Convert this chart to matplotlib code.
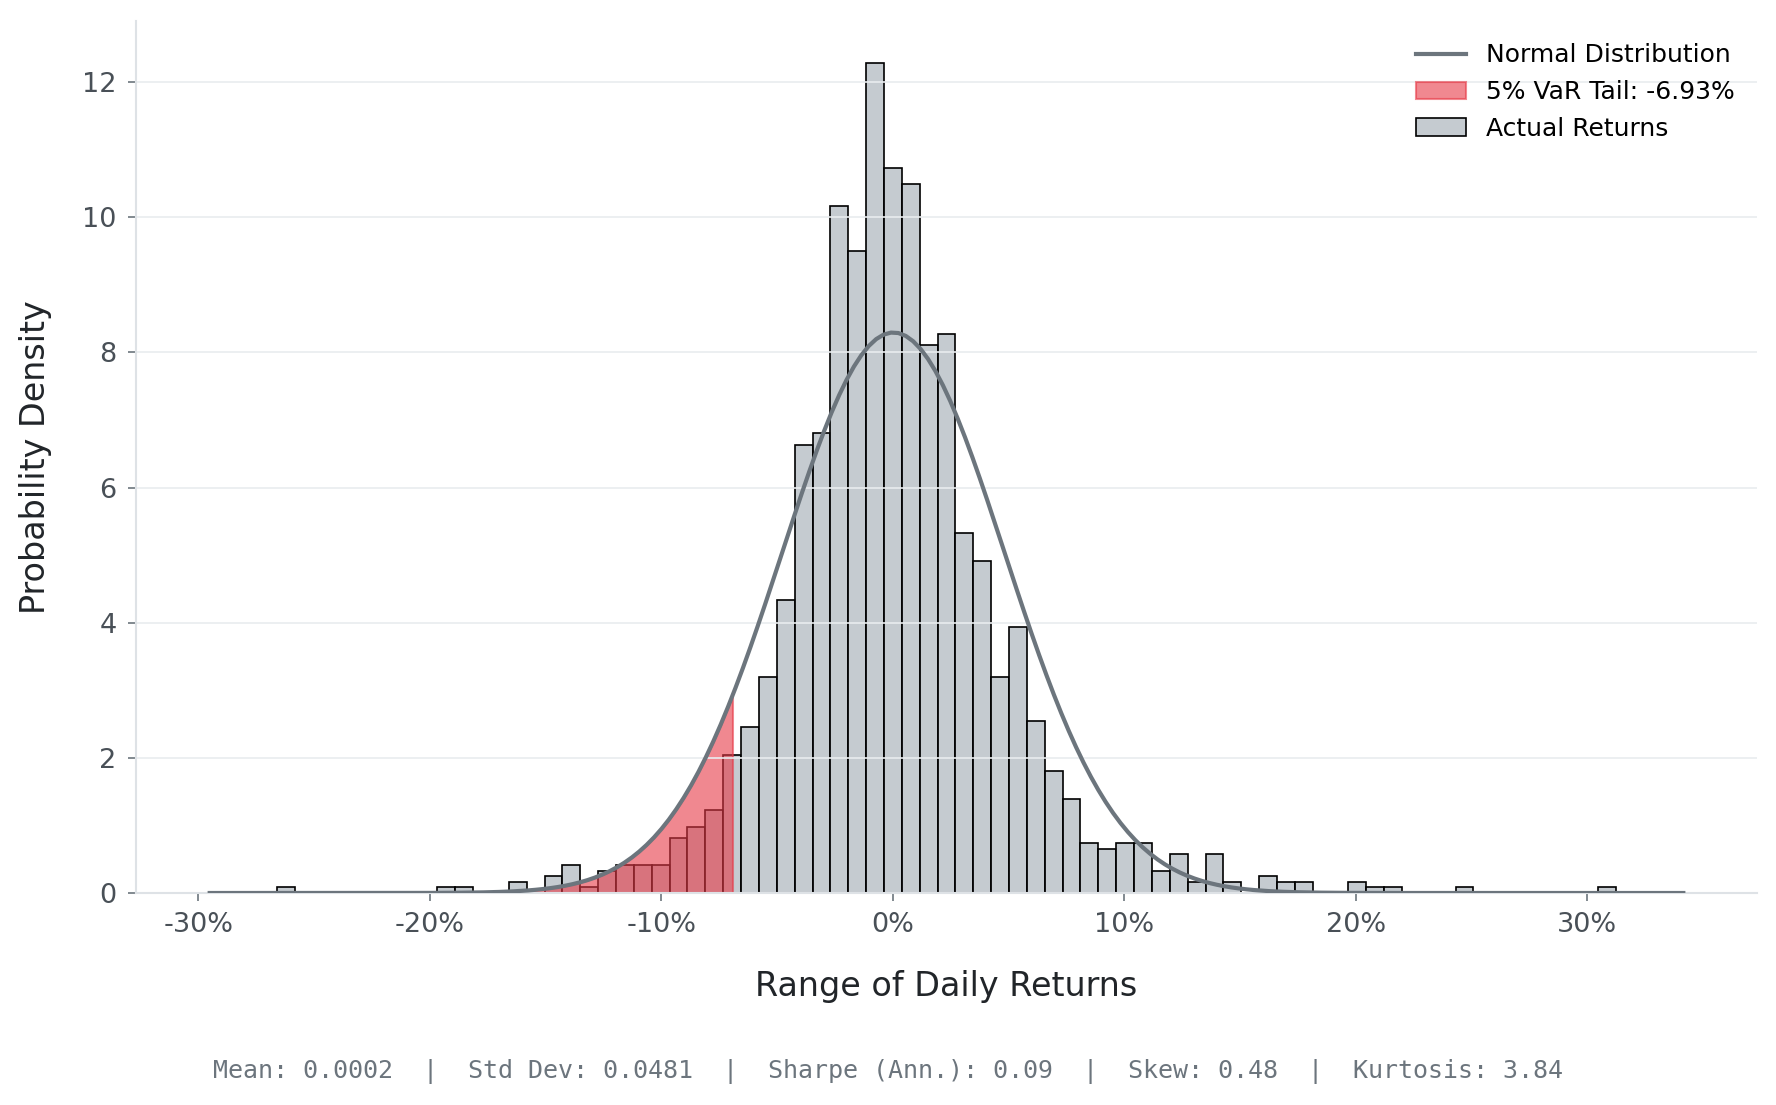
import numpy as np
import matplotlib
matplotlib.use("Agg")
import matplotlib.pyplot as plt
from matplotlib.ticker import FuncFormatter

# ---------------- data ----------------
ret_min = -0.2662          # smallest daily return (left edge of first bin)
ret_max = 0.3125           # largest daily return (right edge of last bin)
n_bins = 75
counts = [
    1, 0, 0, 0, 0, 0, 0, 0, 0, 1,
    1, 0, 0, 2, 0, 3, 5, 1, 4, 5,
    5, 5, 10, 12, 15, 25, 30, 39, 53, 81,
    83, 124, 116, 150, 131, 128, 99, 101, 65, 60,
    39, 48, 31, 22, 17, 9, 8, 9, 9, 4,
    7, 2, 7, 2, 0, 3, 2, 2, 0, 0,
    2, 1, 1, 0, 0, 0, 1, 0, 0, 0,
    0, 0, 0, 0, 1,
]
mean_ret = 0.0002
std_ret = 0.0481
sharpe_ann = 0.09
skew_val = 0.48
kurt_val = 3.84
var_5 = -0.0693

label_normal = "Normal Distribution"
label_tail = f"5% VaR Tail: {var_5:.2%}"
label_hist = "Actual Returns"

# ---------------- figure ----------------
W, H, DPI = 1777, 1105, 150
fig = plt.figure(figsize=(W / DPI, H / DPI), dpi=DPI)
ax = fig.add_axes([136 / W, 1 - 893 / H, (1757 - 136) / W, (893 - 21) / H])

edges = np.linspace(ret_min, ret_max, n_bins + 1)
centers = (edges[:-1] + edges[1:]) / 2
_, _, bars = ax.hist(centers, bins=edges, weights=counts, density=True,
                     color=(173 / 255, 181 / 255, 189 / 255, 0.7), edgecolor="black",
                     linewidth=0.8, label=label_hist, zorder=1)

xmin, xmax = ax.get_xlim()
x = np.linspace(xmin, xmax, 200)
pdf = np.exp(-0.5 * ((x - mean_ret) / std_ret) ** 2) / (std_ret * np.sqrt(2 * np.pi))
line, = ax.plot(x, pdf, color="#6c757d", lw=2, label=label_normal, zorder=3)

x_tail = np.linspace(xmin, var_5, 200)
pdf_tail = np.exp(-0.5 * ((x_tail - mean_ret) / std_ret) ** 2) / (std_ret * np.sqrt(2 * np.pi))
tail = ax.fill_between(x_tail, 0, pdf_tail, color="#e63946", alpha=0.6,
                       label=label_tail, zorder=1.2)

# axes styling
ax.set_axisbelow("line")
ax.yaxis.grid(True, color="#e9ecef", lw=0.8)
ax.xaxis.grid(False)
for s in ["top", "right"]:
    ax.spines[s].set_visible(False)
for s in ["left", "bottom"]:
    ax.spines[s].set_color("#dee2e6")
    ax.spines[s].set_linewidth(1.0)
ax.tick_params(axis="both", labelsize=13, labelcolor="#495057", color="#6c757d",
               length=4, pad=5.3)
ax.xaxis.set_major_formatter(FuncFormatter(lambda v, _: f"{v:.0%}"))

ax.set_xlabel("Range of Daily Returns", fontsize=16, color="#212529")
ax.set_ylabel("Probability Density", fontsize=16, color="#212529")
ax.xaxis.set_label_coords(0.5, -0.088)
ax.yaxis.set_label_coords(-0.0521, 0.5)

ax.legend(handles=[line, tail, bars[0]], labels=[label_normal, label_tail, label_hist],
          loc="upper right", frameon=False, fontsize=12)

stats = (f"Mean: {mean_ret:.4f}  |  Std Dev: {std_ret:.4f}  |  "
         f"Sharpe (Ann.): {sharpe_ann:.2f}  |  Skew: {skew_val:.2f}  |  Kurtosis: {kurt_val:.2f}")
fig.text(0.5, 1 - 1072 / H, stats, ha="center", va="center", fontsize=12,
         family="DejaVu Sans Mono", color="#6c757d")

fig.savefig("out.png", dpi=DPI)
